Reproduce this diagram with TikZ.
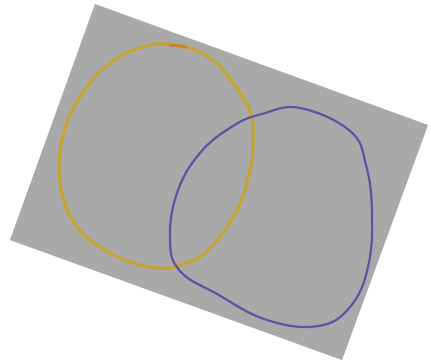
\documentclass[tikz,border=0pt]{standalone}
\usepackage{xcolor}
\usepackage{tikz}
\definecolor{photo}{HTML}{A9A9A9}
\definecolor{ochre}{HTML}{C9A41E}
\definecolor{rust}{HTML}{C8641E}
\definecolor{ink}{HTML}{4B3FA6}
\tikzset{yloop/.style={draw=ochre,line width=3.2pt,opacity=0.85},
  bloop/.style={draw=ink,line width=2.2pt,opacity=0.8}}

\begin{document}
\begin{tikzpicture}[x=1pt,y=-1pt]
\useasboundingbox (0,0) rectangle (431,362);
\fill[photo] (95,4)--(428,125)--(342,360)--(10,240)--cycle;
\draw[yloop] plot[smooth cycle,tension=0.7] coordinates{(177,45) (210,58) (233,83) (250,112) (253,140)
  (250,170) (236,212) (207,251) (177,266) (150,267) (112,254) (78,228) (61,188) (62,140) (80,97) (110,63) (143,47)};
\draw[rust,line width=2.4pt,opacity=0.5,line cap=round] (170,45.5) to[bend left=6] (186,47.5);
\draw[bloop] plot[smooth cycle,tension=0.7] coordinates{(300,108) (350,131) (366,165) (372,213) (368,267)
  (350,307) (318,326) (267,320) (217,294) (180,271) (170,240) (177,193) (200,153) (233,126) (262,114)};
\end{tikzpicture}
\end{document}
